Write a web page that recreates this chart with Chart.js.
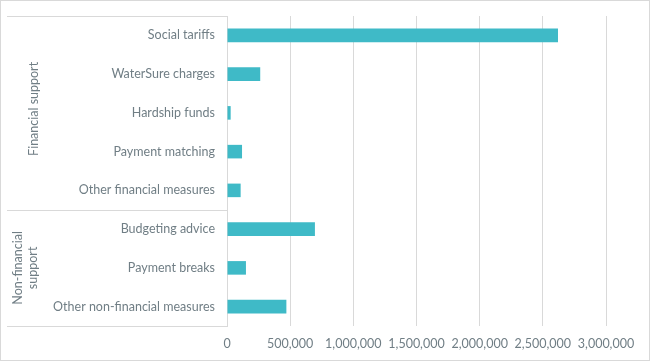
<!DOCTYPE html>
<html>
<head>
<meta charset="utf-8">
<script src="https://cdn.jsdelivr.net/npm/chart.js@4"></script>
<style>
  body { margin: 0; background: #fff; }
  #wrap { width: 650px; height: 361px; }
</style>
</head>
<body>
<div id="wrap"><canvas id="chart" width="650" height="361"></canvas></div>
<script>
// categories, top to bottom
const categories = [
  'Social tariffs',
  'WaterSure charges',
  'Hardship funds',
  'Payment matching',
  'Other financial measures',
  'Budgeting advice',
  'Payment breaks',
  'Other non-financial measures',
];

// customers helped
const values = [2620000, 263000, 29000, 119000, 108000, 696000, 150000, 470000];

// group labels and how many categories each covers
const groupNames = [['Financial support'], ['Non-financial', 'support']];
const groupSizes = [5, 3];

const xTicks = [0, 500000, 1000000, 1500000, 2000000, 2500000, 3000000];

const textColor = '#707e85';
const lineColor = '#d9d9d9';
const fontFamily = 'Lato, "Open Sans", sans-serif';
const fontSize = 12.5;

// draws the outer frame, the group labels and the lines between groups
const groupPlugin = {
  id: 'groups',
  beforeDraw(chart) {
    const ctx = chart.ctx;
    ctx.save();
    ctx.strokeStyle = lineColor;
    ctx.lineWidth = 1;
    ctx.strokeRect(0.5, 0.5, chart.width - 1, chart.height - 1);
    ctx.restore();
  },
  afterDraw(chart) {
    const ctx = chart.ctx;
    const area = chart.chartArea;
    const step = (area.bottom - area.top) / categories.length;
    ctx.save();
    ctx.strokeStyle = lineColor;
    ctx.lineWidth = 1;

    let start = 0;
    const edges = [area.top];
    groupSizes.forEach((n) => {
      start += n;
      edges.push(area.top + start * step);
    });
    edges.forEach((e) => {
      const yy = Math.round(e) + 0.5;
      ctx.beginPath();
      ctx.moveTo(7, yy);
      ctx.lineTo(area.left, yy);
      ctx.stroke();
    });

    ctx.fillStyle = textColor;
    ctx.font = fontSize + 'px ' + fontFamily;
    ctx.textAlign = 'center';
    ctx.textBaseline = 'middle';
    groupNames.forEach((lines, i) => {
      const mid = (edges[i] + edges[i + 1]) / 2;
      const xs = lines.length === 1 ? [34] : [18, 33];
      lines.forEach((txt, j) => {
        ctx.save();
        ctx.translate(xs[j], mid - (lines.length === 1 ? 4 : 0));
        ctx.rotate(-Math.PI / 2);
        ctx.fillText(txt, 0, 0);
        ctx.restore();
      });
    });
    ctx.restore();
  },
};

new Chart(document.getElementById('chart'), {
  type: 'bar',
  data: {
    labels: categories,
    datasets: [{
      data: values,
      backgroundColor: '#3fbac7',
      borderWidth: 0,
      categoryPercentage: 1,
      barPercentage: 0.35,
    }],
  },
  options: {
    indexAxis: 'y',
    responsive: false,
    animation: false,
    layout: { padding: { top: 16, right: 44, left: 0, bottom: 0 } },
    plugins: { legend: { display: false }, tooltip: { enabled: false } },
    scales: {
      x: {
        min: 0,
        max: 3000000,
        afterBuildTicks: (scale) => { scale.ticks = xTicks.map((v) => ({ value: v })); },
        afterFit: (scale) => { scale.height = 35; },
        grid: { color: lineColor, drawTicks: false },
        border: { display: false },
        ticks: {
          color: textColor,
          font: { family: fontFamily, size: fontSize },
          padding: 10,
          callback: (v) => v.toLocaleString('en-GB'),
        },
      },
      y: {
        afterFit: (scale) => {
          scale.width = 227;
          scale.paddingTop = 0;
          scale.paddingBottom = 0;
        },
        grid: { display: false, drawTicks: false },
        border: { display: true, color: lineColor },
        ticks: {
          color: textColor,
          font: { family: fontFamily, size: fontSize },
          padding: 12,
        },
      },
    },
  },
  plugins: [groupPlugin],
});
</script>
</body>
</html>
